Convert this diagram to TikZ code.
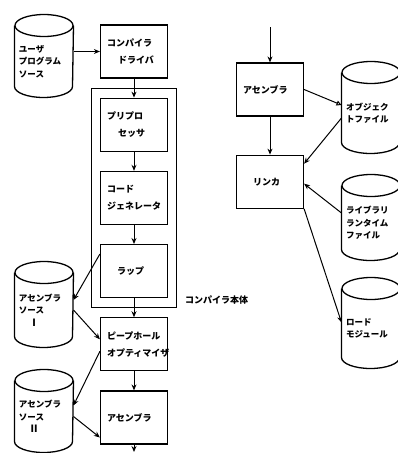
\documentclass[tikz,border=0pt]{standalone}
\usepackage{fontspec}
\setmainfont{Noto Sans CJK JP}
\usetikzlibrary{positioning,fit,arrows.meta}

\tikzset{
  stage/.style={draw, line width=1.2pt, minimum width=67pt, minimum height=53pt,
    inner sep=0pt, text width=54pt, align=left,
    font=\bfseries\fontsize{9}{17}\selectfont},
  disk/.style={minimum width=58pt, minimum height=#1, inner sep=0pt,
    text width=50pt, align=left, font=\bfseries\fontsize{8.5}{12.5}\selectfont},
}

\begin{document}
\begin{tikzpicture}[x=1pt,y=1pt,->,>={Stealth[length=6pt,width=5pt]},line width=1pt]

\useasboundingbox (0,0) rectangle (398,-453);

% compiler side
\node[disk=71pt] (user) at (44,-61.5) {ユーザ\\プログラム\\ソース};
\node[stage] (drv) at (134,-51.5) {コンパイラ\\\hspace*{11pt}ドライバ};
\node[stage, below=19pt of drv] (prep) {プリプロ\\\hspace*{11pt}セッサ};
\node[stage, below=19pt of prep] (code) {コード\\ジェネレータ};
\node[stage, below=19pt of code] (wrap) {\hspace*{10pt}ラップ};
\node[stage, below=19pt of wrap] (peep) {ピープホール\\オプティマイザ};
\node[stage, below=19pt of peep] (asmL) {アセンブラ};
\coordinate (exit) at (134,-452);

\node[draw, line width=1.2pt, fit=(prep)(wrap), inner xsep=8.5pt, inner ysep=9pt] (body) {};
\node[anchor=west, font=\bfseries\fontsize{9}{11}\selectfont] (bodyname)
  at ([xshift=4pt,yshift=8pt]body.south east) {コンパイラ本体};

\node[disk=74pt] (srcI) at (44,-310) {アセンブラ\\ソース\\\hspace*{1.2em}{\fontsize{10}{12.5}\selectfont Ⅰ}};
\node[disk=71pt] (srcII) at (44,-416.5) {アセンブラ\\ソース\\\hspace*{1.2em}{\fontsize{10}{12.5}\selectfont Ⅱ}};

% linker side
\coordinate (top) at (270,-27);
\node[stage] (asmR) at (270,-89.5) {アセンブラ};
\node[stage, below=38pt of asmR] (link) {\hspace*{10pt}リンカ};

\node[disk=80pt] (obj) at (371,-113) {オブジェク\\トファイル};
\node[disk=74pt] (lib) at (371,-223) {ライブラリ\\ランタイム\\ファイル};
\node[disk=79pt] (load) at (371,-328.5) {ロード\\モジュール};

% disk outlines
\foreach \n in {user,srcI,srcII,obj,lib,load} {
  \draw[-,line width=1.3pt] (\n.north west) -- ([yshift=11pt]\n.south west)
    arc[start angle=180, end angle=360, x radius=29pt, y radius=11pt]
    -- (\n.north east);
  \draw[-,line width=1.3pt] (\n.north) ellipse [x radius=29pt, y radius=11pt];
}

% flow
\foreach \a/\b in {drv/prep, prep/code, code/wrap, wrap/peep, peep/asmL, asmL/exit, top/asmR, asmR/link}
  \draw (\a) -- (\b);

\draw (user.east |- drv.west) -- (drv.west);
\draw ([yshift=-10pt]wrap.north west) -- ([yshift=10pt]srcI.east);
\draw (srcI.east) -- ([yshift=5pt]peep.west);
\draw ([yshift=-7pt]peep.west) -- ([yshift=11pt]srcII.east);
\draw (srcII.east) -- ([yshift=-20pt]asmL.west);

\draw[-{Triangle[open,length=5pt,width=5pt]}] (asmR.east) -- ([yshift=8pt]obj.west);
\draw ([yshift=-5pt]obj.west) -- ([yshift=18pt]link.east);
\draw ([yshift=10pt]lib.west) -- ([yshift=-2pt]link.east);
\draw (link.south east) -- ([yshift=6pt]load.west);

\end{tikzpicture}
\end{document}
